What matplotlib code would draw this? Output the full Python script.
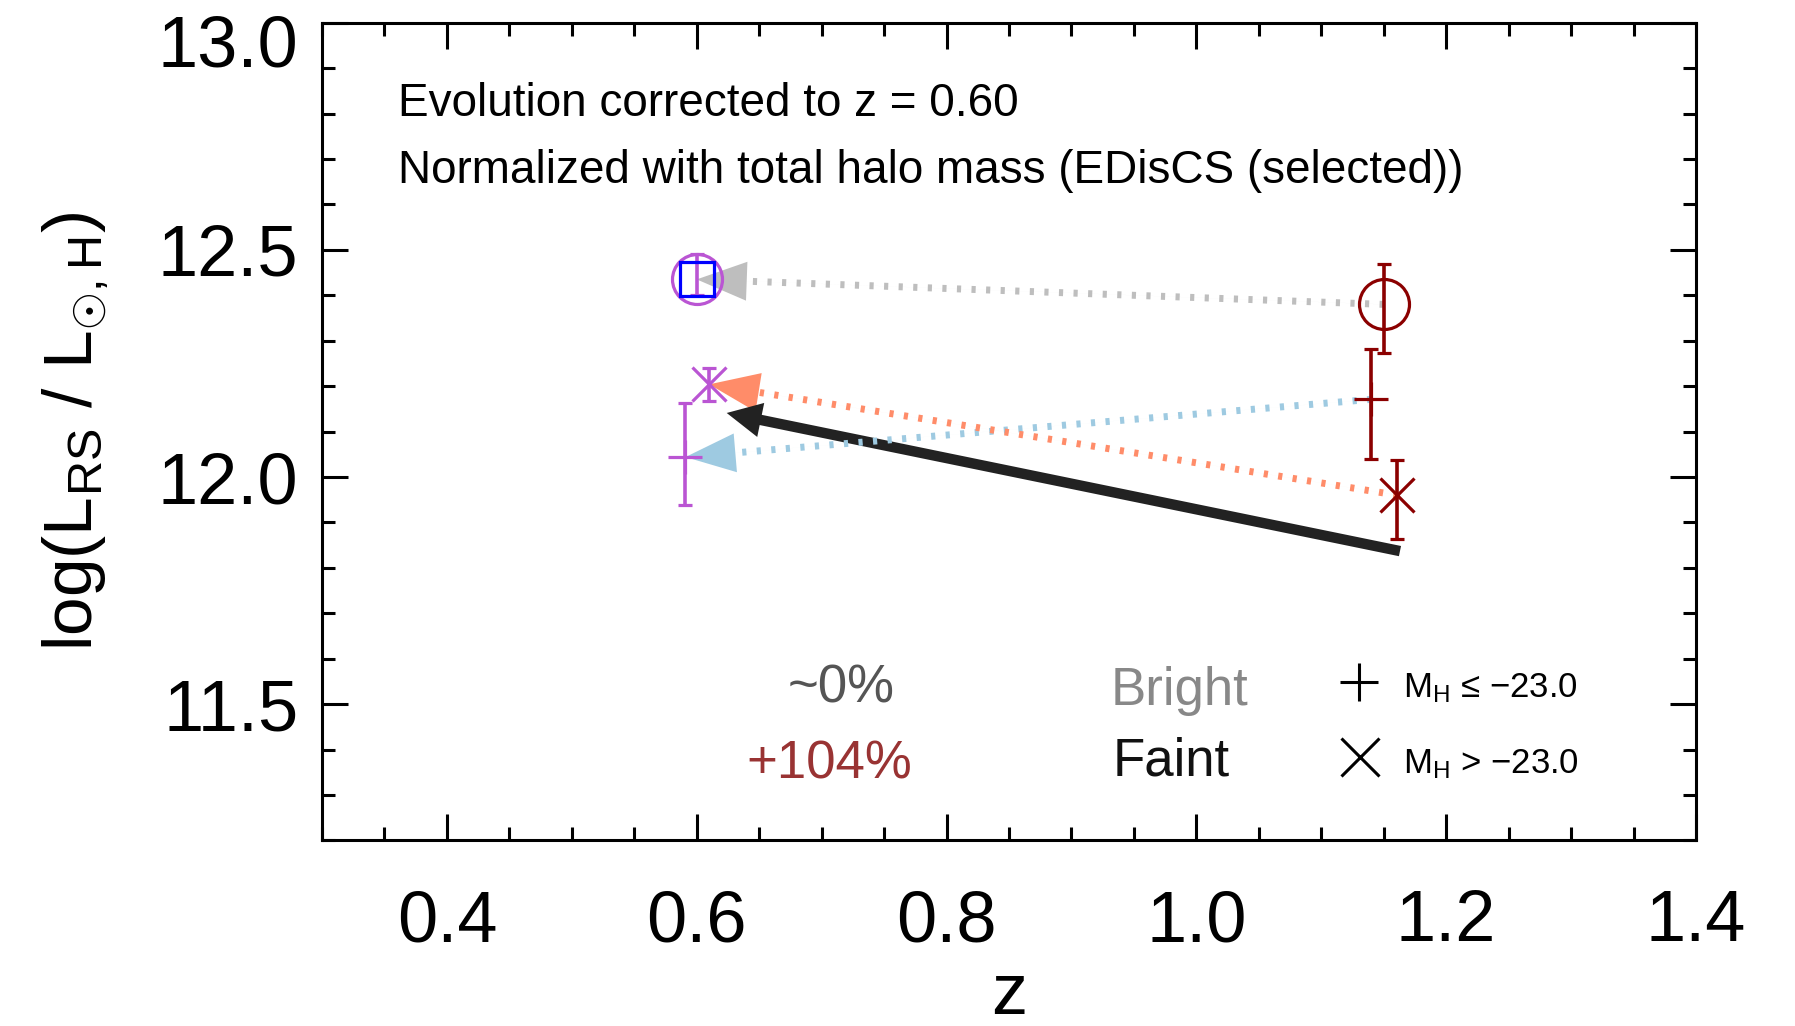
import numpy as np
import matplotlib
matplotlib.use("Agg")
import matplotlib.pyplot as plt
from matplotlib.patches import FancyArrowPatch
from matplotlib.ticker import MultipleLocator, FixedLocator, FormatStrFormatter
from matplotlib.transforms import ScaledTranslation

plt.rcParams['font.family'] = ['Liberation Sans', 'DejaVu Sans']
plt.rcParams['mathtext.fontset'] = 'custom'
plt.rcParams['mathtext.rm'] = 'Liberation Sans'
plt.rcParams['mathtext.it'] = 'Liberation Sans:italic'
plt.rcParams['mathtext.bf'] = 'Liberation Sans:bold'
plt.rcParams['mathtext.sf'] = 'Liberation Sans'

# ---------------- data ----------------
samples = ["All", "Bright", "Faint"]
sample_markers = ["o", "+", "x"]
z_high = [1.150, 1.140, 1.161]
L_high = [12.380, 12.171, 11.960]
L_high_err_lo = [0.106, 0.132, 0.097]
L_high_err_hi = [0.088, 0.110, 0.077]
z_low = [0.600, 0.591, 0.610]
L_low = [12.435, 12.044, 12.204]
L_low_err_lo = [0.035, 0.105, 0.036]
L_low_err_hi = [0.055, 0.119, 0.036]
arrow_colors = ["#BEBEBE", "#9ECAE1", "#FF8C69"]

z_total_low = [0.600]
L_total_low = [12.435]

z_black = [1.163, 0.624]
L_black = [11.837, 12.141]

xticks = [0.4, 0.6, 0.8, 1.0, 1.2, 1.4]
yticks = [11.5, 12.0, 12.5, 13.0]
pct_bright = "~0%"
pct_faint = "+104%"

HIGH_COLOR = "#8B0000"
LOW_COLOR = "#BA55D3"

fig = plt.figure(figsize=(17.95, 10.26), dpi=100)
ax = fig.add_axes([0.17939, 0.18080, 0.76546, 0.79708])
ax.set_xlim(0.3, 1.4)
ax.set_ylim(11.2, 13.0)

def px(pt):
    return pt * fig.dpi / 72.0

def head_base(x0, y0, x1, y1, hl_pt):
    p0 = ax.transData.transform((x0, y0))
    p1 = ax.transData.transform((x1, y1))
    d = p0 - p1
    d = d / np.hypot(*d)
    pb = p1 + d * px(hl_pt)
    return ax.transData.inverted().transform(pb)

# colored arrows: dotted line + filled head
HL, HW = 36, 28
for i in range(3):
    x0, y0, x1, y1 = z_high[i], L_high[i], z_low[i], L_low[i]
    bx, by = head_base(x0, y0, x1, y1, HL)
    ax.plot([x0, bx], [y0, by], color=arrow_colors[i], lw=5.0,
            linestyle=(0, (0.6, 1.5)), dash_capstyle='butt',
            solid_capstyle='butt', zorder=4)
    arr = FancyArrowPatch((x0, y0), (x1, y1),
                          arrowstyle=f"simple,head_length={HL},head_width={HW},tail_width=0.01",
                          mutation_scale=1, lw=0, color=arrow_colors[i],
                          shrinkA=0, shrinkB=0, zorder=2)
    ax.add_patch(arr)

# black overall arrow
arr = FancyArrowPatch((z_black[0], L_black[0]), (z_black[1], L_black[1]),
                      arrowstyle="simple,head_length=25,head_width=25,tail_width=7.5",
                      mutation_scale=1, lw=0, color="#222222",
                      shrinkA=0, shrinkB=0, zorder=3)
ax.add_patch(arr)

# data points
msizes = {"o": 36, "+": 25, "x": 25}
for i in range(3):
    m = sample_markers[i]
    ax.errorbar([z_high[i]], [L_high[i]],
                yerr=[[L_high_err_lo[i]], [L_high_err_hi[i]]],
                fmt=m, color=HIGH_COLOR, mfc='none', mec=HIGH_COLOR,
                ms=msizes[m], mew=2.3, elinewidth=2.6, capsize=4.8,
                capthick=2.6, zorder=5)
    ax.errorbar([z_low[i]], [L_low[i]],
                yerr=[[L_low_err_lo[i]], [L_low_err_hi[i]]],
                fmt=m, color=LOW_COLOR, mfc='none', mec=LOW_COLOR,
                ms=msizes[m], mew=2.3, elinewidth=2.6, capsize=4.8,
                capthick=2.6, zorder=5)

ax.plot(z_total_low, L_total_low, 's', ms=25, mfc='none', mec='#0000FF',
        mew=2.3, zorder=6)

# ticks
ax.xaxis.set_major_locator(FixedLocator(xticks))
ax.xaxis.set_minor_locator(MultipleLocator(0.05))
ax.yaxis.set_major_locator(FixedLocator(yticks))
ax.yaxis.set_minor_locator(MultipleLocator(0.1))
ax.xaxis.set_major_formatter(FormatStrFormatter('%.1f'))
ax.yaxis.set_major_formatter(FormatStrFormatter('%.1f'))
ax.tick_params(which='both', direction='in', top=True, right=True,
               width=2.2, color='black')
ax.tick_params(which='major', length=19)
ax.tick_params(which='minor', length=9.5)
ax.tick_params(axis='x', which='major', labelsize=52, pad=35)
ax.tick_params(axis='y', which='major', labelsize=52, pad=17)
for s in ax.spines.values():
    s.set_linewidth(2.2)

ax.set_xlabel("z", fontsize=52, labelpad=4)
ax.set_ylabel(r"log(L$_\mathrm{RS}$ / L$_{\odot\mathrm{,H}}$)", fontsize=50)
ax.yaxis.set_label_coords(-0.1536, 0.5)

# annotations
ax.text(0.0553, 0.886, "Evolution corrected to z = 0.60", transform=ax.transAxes,
        fontsize=33, va='baseline', ha='left')
ax.text(0.0553, 0.804, "Normalized with total halo mass (EDisCS (selected))",
        transform=ax.transAxes, fontsize=33, va='baseline', ha='left')

ax.text(0.3777, 0.1682, pct_bright, transform=ax.transAxes, fontsize=38,
        color='#555555', ha='center', va='baseline')
ax.text(0.369, 0.0764, pct_faint, transform=ax.transAxes, fontsize=38,
        color='#993333', ha='center', va='baseline')
ax.text(0.5739, 0.1658, "Bright", transform=ax.transAxes, fontsize=38,
        color='#888888', ha='left', va='baseline')
ax.text(0.5755, 0.0789, "Faint", transform=ax.transAxes, fontsize=38,
        color='#111111', ha='left', va='baseline')

ax.plot([0.7547], [0.1938], '+', transform=ax.transAxes, ms=27, mew=2.2,
        color='black', clip_on=False)
ax.plot([0.7555], [0.1021], 'x', transform=ax.transAxes, ms=27, mew=2.2,
        color='black', clip_on=False)
ax.text(0.7871, 0.1755, r"M$_\mathrm{H}$ ≤ −23.0", transform=ax.transAxes,
        fontsize=25, ha='left', va='baseline')
ax.text(0.7871, 0.0825, r"M$_\mathrm{H}$ > −23.0", transform=ax.transAxes,
        fontsize=25, ha='left', va='baseline')

# shift the top y tick label down (as in reference)
ticks = ax.yaxis.get_major_ticks()
lab = ticks[yticks.index(13.0)].label1
lab.set_transform(lab.get_transform() + ScaledTranslation(0, -13 / 72, fig.dpi_scale_trans))

fig.savefig("out.png", dpi=100)
